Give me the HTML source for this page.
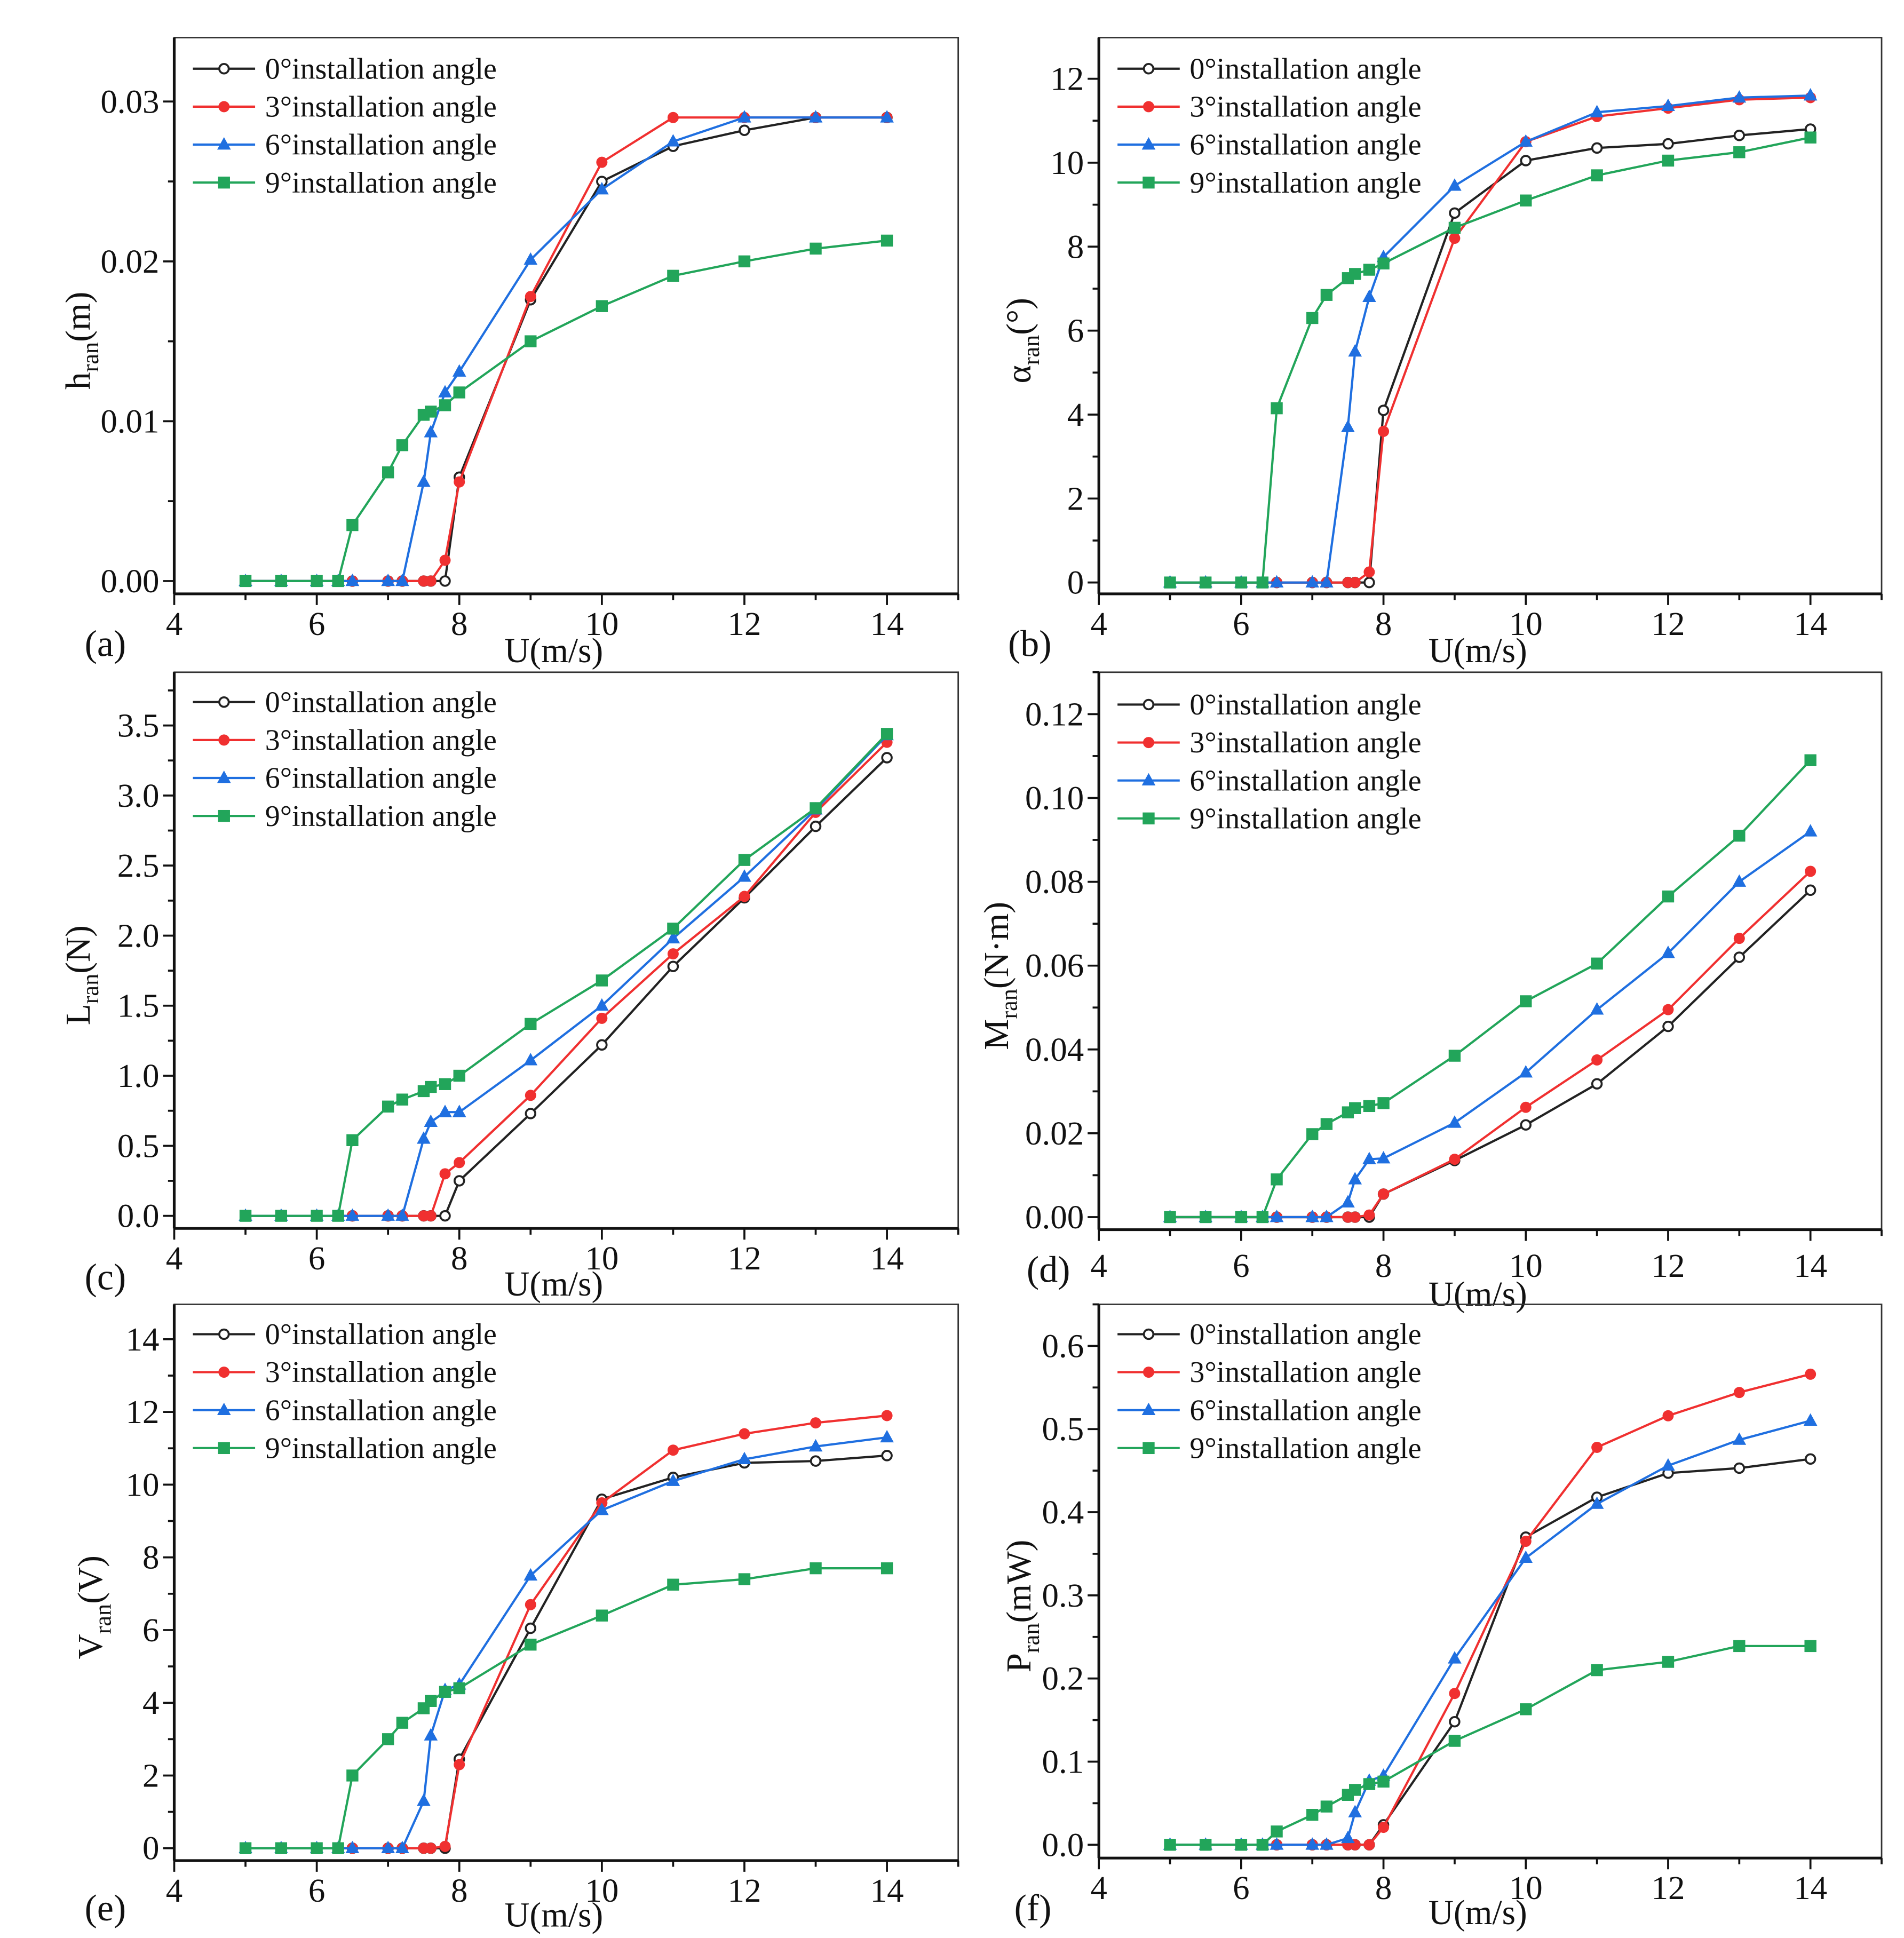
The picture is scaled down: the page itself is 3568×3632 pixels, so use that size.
<!DOCTYPE html>
<html><head><meta charset="utf-8"><style>
html,body{margin:0;padding:0;background:#fff;}
svg{display:block;}
text{font-family:"Liberation Serif",serif;fill:#111;}
</style></head><body>
<svg id="fig" width="3568" height="3632" viewBox="0 0 1530 1557" xmlns="http://www.w3.org/2000/svg"></svg>
<script>
const xs = [5,5.5,6,6.3,6.5,7,7.2,7.5,7.6,7.8,8,9,10,11,12,13,14];
const seriesNames = ["0°installation angle","3°installation angle","6°installation angle","9°installation angle"];
// panel a: h_ran
const hA0 = [0,0,0,0,0,0,0,0,0,0,0.0065,0.0176,0.025,0.0272,0.0282,0.029,0.029];
const hA3 = [0,0,0,0,0,0,0,0,0,0.0013,0.0062,0.0178,0.0262,0.029,0.029,0.029,0.029];
const hA6 = [0,0,0,0,0,0,0,0.0062,0.0093,0.0118,0.0131,0.0201,0.0245,0.0275,0.029,0.029,0.029];
const hA9 = [0,0,0,0,0.0035,0.0068,0.0085,0.0104,0.0106,0.011,0.0118,0.015,0.0172,0.0191,0.020,0.0208,0.0213];
// panel b: alpha
const aB0 = [0,0,0,0,0,0,0,0,0,0,4.1,8.8,10.05,10.35,10.45,10.65,10.8];
const aB3 = [0,0,0,0,0,0,0,0,0,0.25,3.6,8.2,10.5,11.1,11.3,11.5,11.55];
const aB6 = [0,0,0,0,0,0,0,3.7,5.5,6.8,7.75,9.45,10.5,11.2,11.35,11.55,11.6];
const aB9 = [0,0,0,0,4.15,6.3,6.85,7.25,7.35,7.45,7.6,8.45,9.1,9.7,10.05,10.25,10.6];
// panel c: L
const lC0 = [0,0,0,0,0,0,0,0,0,0,0.25,0.73,1.22,1.78,2.27,2.78,3.27];
const lC3 = [0,0,0,0,0,0,0,0,0,0.3,0.38,0.86,1.41,1.87,2.28,2.88,3.38];
const lC6 = [0,0,0,0,0,0,0,0.55,0.67,0.74,0.74,1.11,1.5,1.98,2.42,2.9,3.43];
const lC9 = [0,0,0,0,0.54,0.78,0.83,0.89,0.92,0.94,1.0,1.37,1.68,2.05,2.54,2.91,3.44];
// panel d: M
const mD0 = [0,0,0,0,0,0,0,0,0,0,0.0055,0.0135,0.022,0.0318,0.0455,0.062,0.078];
const mD3 = [0,0,0,0,0,0,0,0,0,0.0005,0.0055,0.0138,0.0262,0.0375,0.0495,0.0665,0.0825];
const mD6 = [0,0,0,0,0,0,0,0.0035,0.009,0.0138,0.014,0.0225,0.0345,0.0495,0.063,0.080,0.092];
const mD9 = [0,0,0,0,0.009,0.0198,0.0222,0.025,0.026,0.0265,0.0272,0.0385,0.0515,0.0605,0.0765,0.091,0.109];
// panel e: V
const vE0 = [0,0,0,0,0,0,0,0,0,0,2.45,6.05,9.6,10.2,10.6,10.65,10.8];
const vE3 = [0,0,0,0,0,0,0,0,0,0.05,2.3,6.7,9.5,10.95,11.4,11.7,11.9];
const vE6 = [0,0,0,0,0,0,0,1.3,3.1,4.35,4.5,7.5,9.3,10.1,10.7,11.05,11.3];
const vE9 = [0,0,0,0,2.0,3.0,3.45,3.85,4.05,4.3,4.4,5.6,6.4,7.25,7.4,7.7,7.7];
// panel f: P
const pF0 = [0,0,0,0,0,0,0,0,0,0,0.024,0.148,0.37,0.418,0.447,0.453,0.464];
const pF3 = [0,0,0,0,0,0,0,0,0,0,0.021,0.182,0.365,0.478,0.516,0.544,0.566];
const pF6 = [0,0,0,0,0,0,0,0.008,0.039,0.077,0.083,0.224,0.345,0.41,0.456,0.487,0.51];
const pF9 = [0,0,0,0,0.016,0.036,0.046,0.06,0.066,0.073,0.076,0.125,0.163,0.21,0.22,0.239,0.239];
const xTicks = [4,6,8,10,12,14];
const yTicksA = ["0.00","0.01","0.02","0.03"];
const yTicksB = ["0","2","4","6","8","10","12"];
const yTicksC = ["0.0","0.5","1.0","1.5","2.0","2.5","3.0","3.5"];
const yTicksD = ["0.00","0.02","0.04","0.06","0.08","0.10","0.12"];
const yTicksE = ["0","2","4","6","8","10","12","14"];
const yTicksF = ["0.0","0.1","0.2","0.3","0.4","0.5","0.6"];

const NS="http://www.w3.org/2000/svg";
const svg=document.getElementById('fig');
function mk(tag,attrs,parent){const e=document.createElementNS(NS,tag);for(const k in attrs)e.setAttribute(k,attrs[k]);(parent||svg).appendChild(e);return e;}
const colors=["#222","#f03030","#1f6fe0","#22a55a"];

const panels=[
 {id:"a",L:140,R:770,T:30,B:477,ymin:-0.0008,ymax:0.034,y0px:467,ys:[hA0,hA3,hA6,hA9],ticks:yTicksA,minor:0.005,title:"h",unit:"(m)",lx:155,ly:55,lab:"(a)",labx:68,laby:527,xlabY:510,xtitleY:532,ytx:72},
 {id:"b",L:883,R:1512,T:30,B:477,ymin:-0.27,ymax:12.98,ys:[aB0,aB3,aB6,aB9],ticks:yTicksB,minor:1,title:"α",unit:"(°)",lx:898,ly:55,lab:"(b)",labx:810,laby:527,xlabY:510,xtitleY:532,ytx:828},
 {id:"c",L:140,R:770,T:540,B:987,ymin:-0.09,ymax:3.88,ys:[lC0,lC3,lC6,lC9],ticks:yTicksC,minor:0.25,title:"L",unit:"(N)",lx:155,ly:564,lab:"(c)",labx:68,laby:1036,xlabY:1020,xtitleY:1041,ytx:72},
 {id:"d",L:883,R:1512,T:540,B:988,ymin:-0.003,ymax:0.130,ys:[mD0,mD3,mD6,mD9],ticks:yTicksD,minor:0.01,title:"M",unit:"(N·m)",lx:898,ly:566,lab:"(d)",labx:825,laby:1030,xlabY:1026,xtitleY:1049,ytx:810},
 {id:"e",L:140,R:770,T:1048,B:1495,ymin:-0.34,ymax:14.96,ys:[vE0,vE3,vE6,vE9],ticks:yTicksE,minor:1,title:"V",unit:"(V)",lx:155,ly:1072,lab:"(e)",labx:68,laby:1543,xlabY:1528,xtitleY:1548,ytx:82},
 {id:"f",L:883,R:1512,T:1048,B:1493,ymin:-0.016,ymax:0.65,ys:[pF0,pF3,pF6,pF9],ticks:yTicksF,minor:0.05,title:"P",unit:"(mW)",lx:898,ly:1072,lab:"(f)",labx:815,laby:1543,xlabY:1526,xtitleY:1546,ytx:828}
];

function marker(g,i,x,y){
 let m;
 if(i===0)m=mk('circle',{cx:x,cy:y,r:3.8,fill:"#fff",stroke:colors[0],'stroke-width':1.6},g);
 else if(i===1)m=mk('circle',{cx:x,cy:y,r:4.5,fill:colors[1]},g);
 else if(i===2)m=mk('polygon',{points:`${x},${y-6} ${x-5.5},${y+4} ${x+5.5},${y+4}`,fill:colors[2]},g);
 else m=mk('rect',{x:x-4.8,y:y-4.8,width:9.6,height:9.6,fill:colors[3]},g);
 return m;
}

panels.forEach(p=>{
 const g=mk('g',{});
 
 
 const sx=v=>p.L+(v-4)*(p.R-p.L)/11;
 const sy=v=>p.B-(v-p.ymin)*(p.B-p.T)/(p.ymax-p.ymin);
 // frame
 const fr=mk('rect',{x:p.L,y:p.T,width:p.R-p.L,height:p.B-p.T,fill:"none",stroke:"#333",'stroke-width':1.2},g);
 
 
 mk('line',{x1:p.L,y1:p.B,x2:p.R,y2:p.B,stroke:"#111",'stroke-width':2.2},g);
 mk('line',{x1:p.L,y1:p.T,x2:p.L,y2:p.B,stroke:"#111",'stroke-width':2.2},g);
 // x ticks
 for(let v=4;v<=15;v++){const X=sx(v);mk('line',{x1:X,y1:p.B,x2:X,y2:p.B+(v%2===0?9:5),stroke:"#111",'stroke-width':1.6},g);}
 xTicks.forEach(v=>{const t=mk('text',{x:sx(v),y:p.xlabY,'font-size':27,'text-anchor':'middle'},g);t.textContent=v;
  });
 // y ticks
 const vmax=parseFloat(p.ticks[p.ticks.length-1]);
 for(let v=0;v<=vmax+p.minor*1.01;v+=p.minor){const Y=sy(v);if(Y<p.T)break;const major=Math.abs(Math.round(v/(p.minor*2))*p.minor*2-v)<1e-9;
  mk('line',{x1:p.L,y1:Y,x2:p.L-(major?9:5),y2:Y,stroke:"#111",'stroke-width':1.6},g);}
 p.ticks.forEach(s=>{const t=mk('text',{x:p.L-12,y:sy(parseFloat(s))+9,'font-size':27,'text-anchor':'end'},g);t.textContent=s;
  });
 // x title
 const xt=mk('text',{x:(p.L+p.R)/2-10,y:p.xtitleY,'font-size':28,'text-anchor':'middle'},g);xt.textContent="U(m/s)";
 
 // y title
 const cy=(p.T+p.B)/2+20;
 const yt=mk('text',{x:p.ytx,y:cy,'font-size':28,'text-anchor':'middle',transform:`rotate(-90 ${p.ytx} ${cy})`},g);
 
 const t1=mk('tspan',{},yt);t1.textContent=p.title;
 const t2=mk('tspan',{'font-size':19,dy:7},yt);t2.textContent="ran";
 const t3=mk('tspan',{dy:-7},yt);t3.textContent=p.unit;
 // panel label
 const pl=mk('text',{x:p.labx,y:p.laby,'font-size':30},g);pl.textContent=p.lab;
 
 // series
 p.ys.forEach((arr,i)=>{
  const sg=mk('g',{},g);
  
  
  const d=xs.map((x,k)=>(k?'L':'M')+sx(x).toFixed(1)+','+sy(arr[k]).toFixed(1)).join(' ');
  const path=mk('path',{d:d,fill:"none",stroke:colors[i],'stroke-width':1.8,'stroke-linejoin':'round'},sg);
  
  
  xs.forEach((x,k)=>{const m=marker(sg,i,sx(x),sy(arr[k]));
   
   });
 });
 // legend
 const lg=mk('g',{},g);
 
 
 seriesNames.forEach((n,i)=>{
  const y=p.ly+i*30.5;
  const e=mk('g',{},lg);
  
  
  mk('line',{x1:p.lx,y1:y,x2:p.lx+50,y2:y,stroke:colors[i],'stroke-width':1.8},e);
  marker(e,i,p.lx+25,y);
  const t=mk('text',{x:p.lx+58,y:y+8,'font-size':24},e);t.textContent=n;
 });
});
</script>
</body></html>
